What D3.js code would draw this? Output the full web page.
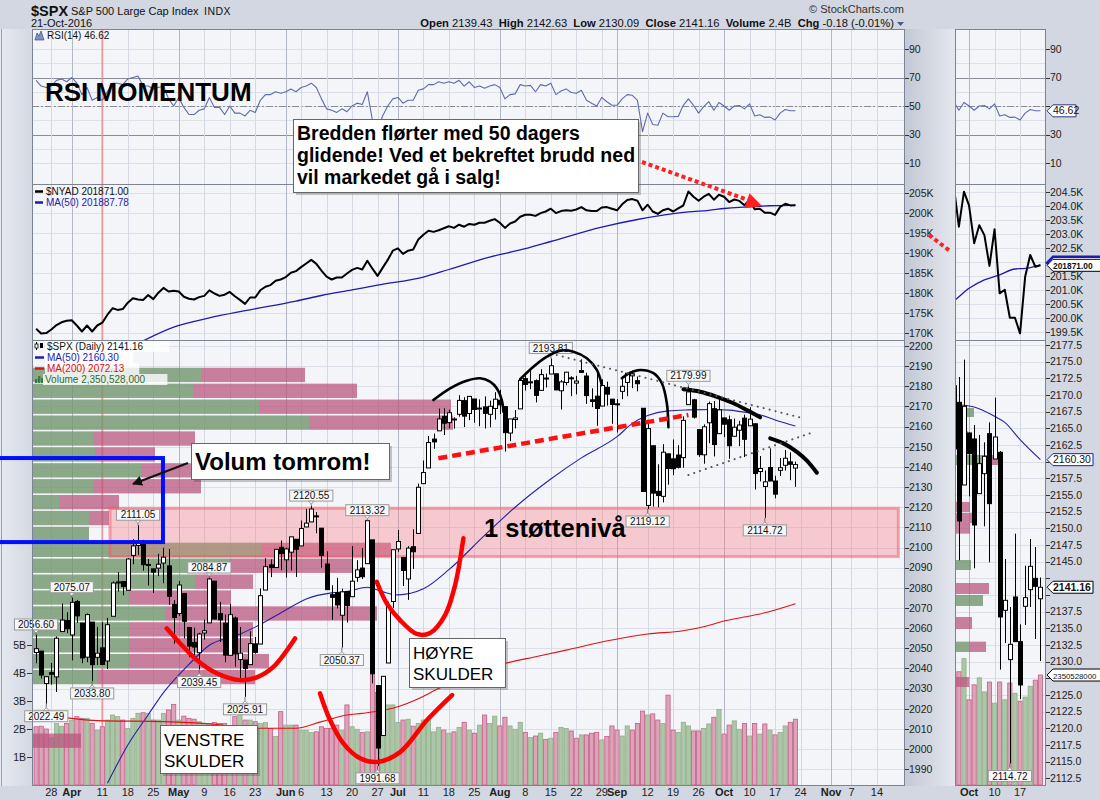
<!DOCTYPE html>
<html><head><meta charset="utf-8">
<script src="https://cdn.jsdelivr.net/npm/d3@7/dist/d3.min.js"></script>
<style>
html,body{margin:0;padding:0;background:#d2d7e1;}
svg{display:block;}
text{font-family:"Liberation Sans",Arial,sans-serif;}
</style></head><body>
<svg id="chart" width="1100" height="800"></svg>
<script>
// ================= DATA =================
const holidays = ["2016-03-25","2016-05-30","2016-07-04","2016-09-05","2016-11-24"];
const firstDay = "2016-03-22";
const prevClose = 2051.60;
const opens = [2047.9,2048.6,2032.5,2037.9,2035.8,2058.3,2063.8,2056.6,2073.2,2062.5,
2045.6,2063.0,2045.5,2050.2,2043.7,2065.9,2082.9,2083.1,2078.8,2096.1,
2101.0,2102.1,2091.5,2089.4,2089.8,2092.3,2090.9,2071.8,2067.2,2077.2,
2060.3,2052.9,2047.8,2057.6,2062.6,2083.3,2067.2,2062.5,2046.5,2065.0,
2044.4,2044.2,2041.9,2052.2,2052.1,2078.9,2091.4,2090.1,2100.1,2093.9,
2097.7,2104.1,2100.8,2110.2,2112.7,2115.7,2109.6,2091.8,2076.6,2077.6,
2066.4,2078.2,2075.6,2085.2,2089.8,2092.0,2103.8,2031.5,2006.7,2042.7,
2073.2,2099.3,2095.1,2084.4,2100.4,2107.0,2131.7,2139.5,2153.8,2157.9,
2165.1,2162.0,2163.8,2166.1,2172.9,2166.5,2173.7,2169.0,2169.8,2166.1,
2169.0,2173.1,2169.9,2156.8,2163.5,2168.8,2183.8,2182.2,2182.8,2178.0,
2183.7,2186.1,2186.2,2177.8,2181.9,2184.2,2181.6,2187.8,2185.1,2173.3,
2175.1,2170.2,2179.5,2173.6,2171.3,2177.5,2181.9,2185.2,2182.8,2169.1,
2120.9,2150.5,2127.9,2125.4,2146.5,2144.0,2145.9,2144.6,2170.9,2173.3,
2158.5,2146.0,2161.9,2168.9,2156.5,2164.3,2163.4,2155.2,2158.2,2164.2,
2160.4,2161.4,2137.7,2130.3,2139.7,2133.0,2138.3,2140.8,2142.5,2139.43];
const highs = [2056.6,2048.6,2036.0,2042.7,2055.9,2072.2,2067.9,2075.07,2074.0,2062.5,
2067.3,2063.0,2060.6,2062.9,2065.1,2083.2,2087.8,2083.2,2094.7,2104.1,
2111.05,2103.8,2094.3,2089.4,2096.9,2099.9,2099.3,2073.9,2083.4,2077.2,
2060.3,2060.2,2057.7,2064.2,2084.87,2083.3,2073.0,2066.8,2071.9,2065.7,
2060.6,2044.2,2058.4,2055.6,2079.7,2094.7,2094.1,2099.1,2103.5,2100.0,
2105.3,2104.1,2113.4,2119.2,2120.55,2117.6,2109.6,2098.1,2081.3,2085.0,
2079.6,2078.2,2100.7,2093.7,2099.7,2113.32,2103.8,2031.5,2036.1,2073.1,
2098.9,2108.7,2095.1,2100.7,2109.1,2131.7,2143.2,2155.4,2156.5,2169.0,
2169.1,2168.4,2164.6,2175.6,2174.6,2175.1,2173.7,2173.5,2175.0,2172.9,
2177.1,2178.3,2170.2,2163.8,2168.2,2182.9,2185.4,2187.7,2183.4,2188.5,
2186.3,2193.81,2186.2,2183.1,2187.0,2185.0,2185.2,2193.4,2186.7,2179.0,
2187.9,2183.5,2182.3,2173.8,2173.6,2184.9,2186.6,2187.9,2184.9,2169.1,
2163.3,2150.5,2141.3,2151.3,2146.5,2153.6,2150.8,2165.1,2179.99,2173.8,
2158.5,2161.1,2172.4,2172.7,2175.3,2164.4,2165.5,2164.0,2162.9,2165.9,
2169.6,2161.6,2145.4,2138.2,2149.2,2135.6,2144.4,2148.4,2147.2,2142.63];
const lows = [2042.6,2034.9,2022.49,2032.0,2028.3,2058.3,2057.5,2044.0,2062.6,2042.6,
2043.1,2033.8,2041.7,2041.9,2039.7,2065.9,2078.1,2076.3,2078.8,2091.7,
2096.3,2088.5,2081.2,2077.5,2085.8,2082.3,2071.6,2052.3,2066.1,2054.9,
2045.6,2045.8,2039.45,2054.3,2062.6,2064.5,2053.1,2043.1,2046.5,2040.8,
2034.5,2025.91,2041.9,2047.3,2052.1,2078.9,2085.3,2090.1,2088.7,2085.1,
2088.6,2085.4,2100.8,2110.2,2112.7,2107.1,2090.0,2079.0,2064.1,2069.8,
2050.37,2062.8,2075.6,2083.0,2084.4,2092.0,2032.6,1991.68,2006.7,2042.7,
2070.0,2097.9,2080.9,2074.0,2089.4,2107.0,2131.7,2139.5,2149.0,2157.9,
2155.8,2159.1,2159.0,2164.9,2159.8,2163.2,2161.9,2160.2,2159.1,2159.7,
2163.5,2166.2,2147.6,2152.8,2159.1,2168.8,2177.9,2178.6,2172.0,2178.0,
2179.4,2186.1,2178.1,2168.5,2180.5,2175.1,2176.0,2186.8,2171.3,2169.7,
2160.4,2170.2,2170.4,2161.4,2157.1,2173.6,2175.1,2179.1,2177.5,2127.8,
2119.12,2120.3,2120.0,2122.4,2131.2,2135.9,2139.2,2139.6,2170.9,2164.0,
2145.0,2141.6,2151.8,2145.2,2156.5,2154.8,2144.0,2155.2,2150.3,2144.9,
2160.4,2128.8,2132.8,2114.72,2132.98,2124.4,2135.5,2138.2,2133.4,2130.09];
const closes = [2049.8,2036.7,2035.9,2037.1,2055.0,2064.0,2059.7,2072.8,2066.1,2045.2,
2066.7,2041.9,2047.6,2042.0,2061.7,2082.4,2082.8,2080.7,2094.3,2100.8,
2102.4,2091.5,2091.6,2087.8,2091.7,2095.2,2075.8,2065.3,2081.4,2063.4,
2051.1,2050.6,2057.1,2058.7,2084.4,2064.5,2064.1,2046.6,2066.7,2047.2,
2047.6,2040.0,2052.3,2048.0,2076.1,2090.5,2090.1,2099.1,2097.0,2099.3,
2105.3,2099.1,2109.4,2112.1,2119.1,2115.5,2096.1,2079.1,2075.3,2071.5,
2078.0,2071.2,2083.3,2088.9,2085.5,2113.3,2037.4,2000.5,2036.1,2070.8,
2098.9,2103.0,2088.6,2099.7,2097.9,2129.9,2137.2,2152.1,2152.4,2163.8,
2161.7,2166.9,2163.8,2173.0,2165.2,2175.0,2168.5,2169.2,2166.6,2170.1,
2173.6,2170.8,2157.0,2163.8,2164.3,2182.9,2180.9,2181.7,2175.5,2185.8,
2184.1,2190.2,2178.2,2182.2,2187.0,2183.9,2182.6,2186.9,2175.4,2172.5,
2169.0,2180.4,2176.1,2171.0,2170.9,2180.0,2186.5,2186.2,2181.3,2127.8,
2159.0,2127.0,2125.8,2147.3,2139.2,2139.1,2139.8,2163.1,2177.2,2164.7,
2146.1,2159.9,2171.4,2151.1,2168.3,2161.2,2150.5,2159.7,2160.8,2153.7,
2163.7,2136.7,2139.2,2132.6,2133.0,2126.5,2139.6,2144.3,2141.3,2141.16];
// volume, billions of shares
const volumes = [2.08,2.1,2.0,1.68,2.2,2.1,2.2,2.3,2.44,2.38,
2.38,2.2,1.96,2.08,2.32,2.5,2.44,2.32,2.02,2.38,
2.56,2.58,2.56,2.32,2.32,2.56,2.68,2.88,2.32,2.46,
2.38,2.35,2.26,2.2,2.2,2.23,2.2,2.2,2.11,2.44,
2.56,2.32,2.32,2.26,2.2,2.23,2.02,1.73,2.62,2.14,
2.14,2.14,1.96,1.96,1.87,1.9,2.08,2.02,2.02,2.14,
1.96,2.86,2.08,1.99,1.87,1.9,3.95,3.3,2.68,2.86,
2.86,2.23,2.32,2.35,2.1,2.2,2.32,2.32,1.9,2.06,
1.96,1.85,1.9,2.06,2.24,1.96,1.85,2.14,2.5,2.2,
2.46,2.11,2.42,2.11,1.99,2.24,1.88,1.7,1.75,1.85,
1.63,1.67,1.88,2.06,2.02,1.93,1.67,1.79,1.79,1.85,
1.88,1.61,1.73,2.11,1.96,1.75,2.11,1.96,2.2,2.64,
2.5,2.54,2.32,2.2,3.21,1.96,1.88,2.24,2.11,1.93,
1.93,2.02,2.18,2.42,2.7,1.82,2.14,2.29,1.99,2.2,
1.75,2.2,1.82,2.18,1.96,1.79,1.88,2.11,2.24,2.35];
const rsi = [68,64,63,64,68,69,67,70,66,58,
63,54,56,54,60,66,66,65,69,70,
71,64,64,62,63,64,55,50,56,49,
44,44,47,48,56,49,49,44,50,45,
45,43,47,45.5,54,58,58,60,59,60,
62,60,63,64,66,63,55,48,47,45.5,
48,46,50,52,51,60,40,33,43,50,
55,56,52,54,54,61,62,65,65,67,
66,67,66,68,64,67,63,64,62.5,64,
65,63,55,58,58.5,65,64,64.5,60,65,
64,66,58,60.5,62,59.5,59,61,54,52,
50,56,53,50.5,50.5,55,58,57.5,54,32,
45,37,36.5,45,42.5,42.5,42.7,50.5,55,50.5,
45,49.5,53,47,52.5,50,47,50,50.3,48,
51.5,43,43.8,42,42.2,40.2,45,47.5,46.7,46.62];
// $NYAD in thousands
const nyad = [171.0,169.8,169.9,170.8,171.9,172.6,173.0,173.1,171.8,170.3,
171.8,170.3,171.8,172.5,174.5,176.1,175.7,175.9,177.5,178.6,
178.3,178.2,179.4,178.4,180.0,181.2,180.3,180.5,180.3,179.0,
178.5,178.3,178.9,179.2,180.6,179.8,179.2,179.5,180.2,179.1,
178.2,177.2,178.8,178.8,180.6,181.5,181.9,183.0,183.3,183.9,
185.0,185.4,186.4,187.3,188.2,187.2,185.5,184.0,183.3,183.8,
183.8,184.8,185.7,186.2,185.8,188.0,186.0,184.2,186.2,188.2,
190.5,191.1,189.7,190.5,190.8,193.3,194.5,195.5,195.2,195.6,
196.1,196.6,196.2,197.0,196.5,197.2,197.0,197.5,197.5,198.0,
198.4,197.5,196.2,197.3,197.8,199.0,199.5,199.5,199.2,199.9,
200.3,201.0,199.9,200.4,200.6,200.5,200.8,201.4,200.6,200.4,
200.4,201.3,201.4,201.0,200.6,202.1,203.2,203.4,203.0,200.6,
202.0,200.3,199.7,200.6,201.0,200.3,201.1,201.8,205.3,204.0,
203.0,204.0,204.7,203.25,204.5,204.0,202.66,203.3,202.95,201.85,
203.16,200.87,201.0,200.0,200.0,199.44,201.46,202.24,201.82,201.871];
// [trading day number, value]
const nyadMA50 = [[20,167.3],[27,171.4],[34,173.7],[41,175.5],[51,177.9],[56,179.3],[62,180.7],[67,181.9],[76,183.9],[81,185.8],[89,188.9],[96,191.0],[101,192.8],[111,196.4],[118,198.3],[128,200.2],[132,200.6],[135,201.05],[138,201.35],[141,201.53],[144,201.74],[146,201.76],[149,201.888]];
const ma50 = [[14,1983],[18,2002],[22,2017],[25,2028],[30,2042],[34,2051.5],[39,2056],[43,2060.5],[48,2067.5],[53,2074.5],[58,2077.5],[61,2078.1],[65,2080.3],[68,2078],[71,2076.5],[76,2079.5],[81,2089],[88,2106],[94,2120],[101,2134],[107,2144.5],[114,2155],[117,2161.6],[120,2165.5],[124,2167.8],[128,2168.3],[133,2168.5],[136,2168.2],[140,2166.8],[142,2165.9],[145,2163.3],[149,2160.3]];
const ma200 = [[0,2016.5],[5,2015.7],[12,2014.1],[25,2013.6],[35,2012.3],[43,2010.3],[51,2010.3],[56,2013.6],[61,2016.9],[64,2017.7],[71,2021],[75,2025],[79,2030],[92,2042.5],[98,2045.8],[104,2049.1],[113,2054.1],[120,2057.1],[127,2058.7],[131,2060.7],[135,2063.5],[143,2067.6],[149,2072.13]];
// Volume-by-price (24 rows top to bottom), billions
const vbpRange = [1999.8, 2189.2];
const vbpUp   = [42,40,56.5,69,15,15.5,27,15,6.5,14,14,57,49,40.5,24,33,24,24,24,16,0,0,0,0];
const vbpDown = [26,41,48,36,25.5,15,13,27,15,5,0,32.5,31,14.5,25.5,53,31,31,35,39.5,0,0,0,12];
// zoom panel volume-by-price rows
const miniVbpTop = [2168.05,2164.6,2161.0,2153.95,2152.3,2150.8,2145.25,2141.8,2140.0,2136.7,2133.0,2127.7];
const miniVbpBot = [2166.7,2163.0,2159.5,2152.45,2150.8,2149.2,2143.75,2140.15,2138.35,2134.9,2131.45,2126.2];
const miniVbpUp   = [4.5,3,7.5,0,0,0,3.75,0,6.75,0,3.5,0];
const miniVbpDown = [0,0,3,3.5,4.25,3.5,0,8.25,0,4,4,3.25];
// highs / lows flagged on the chart
const hlLabels = [[0,2056.60,"H"],[7,2075.07,"H"],[20,2111.05,"H"],[34,2084.87,"H"],[54,2120.55,"H"],[65,2113.32,"H"],[101,2193.81,"H"],[128,2179.99,"H"],
[2,2022.49,"L"],[11,2033.80,"L"],[32,2039.45,"L"],[41,2025.91,"L"],[60,2050.37,"L"],[67,1991.68,"L"],[120,2119.12,"L"],[143,2114.72,"L"]];
// ticks
const priceTicks = [1990,2000,2010,2020,2030,2040,2050,2060,2070,2080,2090,2100,2110,2120,2130,2140,2150,2160,2170,2180,2190,2200];
const rsiGrid = [10,20,30,40,50,60,70,80,90];
const rsiTicks = [90,70,50,30,10];
const nyadTicks = [170,175,180,185,190,195,200,205];
const volTicks = [1,2,3,4,5];
const miniPriceTicks = [2112.5,2115,2117.5,2120,2122.5,2125,2127.5,2130,2132.5,2135,2137.5,2140,2142.5,2145,2147.5,2150,2152.5,2155,2157.5,2160,2162.5,2165,2167.5,2170,2172.5,2175,2177.5];
const miniNyadTicks = [199.5,200,200.5,201,201.5,202,202.5,203,203.5,204,204.5];
const xTicks = [["2016-03-28","28"],["2016-04-01","Apr"],["2016-04-11","11"],["2016-04-18","18"],["2016-04-25","25"],["2016-05-02","May"],["2016-05-09","9"],["2016-05-16","16"],["2016-05-23","23"],["2016-06-01","Jun"],["2016-06-06","6"],["2016-06-13","13"],["2016-06-20","20"],["2016-06-27","27"],["2016-07-01","Jul"],["2016-07-11","11"],["2016-07-18","18"],["2016-07-25","25"],["2016-08-01","Aug"],["2016-08-08","8"],["2016-08-15","15"],["2016-08-22","22"],["2016-08-29","29"],["2016-09-01","Sep"],["2016-09-12","12"],["2016-09-19","19"],["2016-09-26","26"],["2016-10-03","Oct"],["2016-10-10","10"],["2016-10-17","17"],["2016-10-24","24"],["2016-11-01","Nov"],["2016-11-07","7"],["2016-11-14","14"]];
const miniXTicks = [["2016-10-03","Oct"],["2016-10-10","10"],["2016-10-17","17"]];

// ================= LAYOUT / SCALES =================
const fmt = d3.timeFormat("%Y-%m-%d");
const days = d3.timeDay.range(d3.timeParse("%Y-%m-%d")(firstDay), new Date(2016,10,30))
  .filter(d => d.getDay()>0 && d.getDay()<6 && !holidays.includes(fmt(d)));
const dayIdx = new Map(days.map((d,i)=>[fmt(d),i]));
const N = closes.length;

const L=32,R=905,ML=955,MR=1046,T1=29,B1=184,B2=340,B3=786;
const xMain = d3.scaleLinear().domain([-0.8,170.5]).range([L,R]);
const xMini = d3.scaleLinear().domain([-0.8,170.5]).range([L+245,R+245]);
const yRsi = d3.scaleLinear().domain([0,100]).range([177.25,34.75]);
const yNy = d3.scaleLinear().domain([170,205]).range([332.7,192.7]);
const yNyM = d3.scaleLinear().domain([199.5,204.5]).range([331.7,191.7]);
const yPx = d3.scaleLinear().domain([1990,2200]).range([769.2,346]);
const yPxM = d3.scaleLinear().domain([2112.5,2177.5]).range([778.3,345]);
const yVol = d3.scaleLinear().domain([0,5]).range([785,645]);
const yVolM = d3.scaleLinear().domain([0,1]).range([785,738.2]);
const wVbp = d3.scaleLinear().domain([0,100]).range([0,400]);

const svg = d3.select("#chart");
const defs = svg.append("defs");
function clip(id,x,y,w,h){defs.append("clipPath").attr("id",id).append("rect").attr("x",x).attr("y",y).attr("width",w).attr("height",h);}
clip("cR",L,T1,R-L,B1-T1); clip("cN",L,B1,R-L,B2-B1); clip("cP",L,B2,R-L,B3-B2);
clip("mR",ML,T1,MR-ML,B1-T1); clip("mN",ML,B1,MR-ML,B2-B1); clip("mP",ML,B2,MR-ML,B3-B2);
const gr = defs.append("linearGradient").attr("id","gap");
gr.append("stop").attr("offset","0").attr("stop-color","#c3c9d5");
gr.append("stop").attr("offset","1").attr("stop-color","#e4e7ed");
const gl = defs.append("linearGradient").attr("id","lgap");
gl.append("stop").attr("offset","0").attr("stop-color","#e6e9ef");
gl.append("stop").attr("offset","1").attr("stop-color","#d3d8e2");
const mk = defs.append("marker").attr("id","ah").attr("viewBox","0 0 10 10").attr("refX",9).attr("refY",5)
  .attr("markerWidth",5).attr("markerHeight",5).attr("orient","auto");
mk.append("path").attr("d","M0,0L10,5L0,10Z").attr("fill","#111");

// background
svg.append("rect").attr("width",1100).attr("height",800).attr("fill","#d2d7e1");
svg.append("rect").attr("x",0).attr("y",T1).attr("width",L).attr("height",B3-T1).attr("fill","url(#lgap)");
svg.append("rect").attr("x",R).attr("y",T1).attr("width",ML-R).attr("height",B3-T1).attr("fill","url(#gap)");
svg.append("line").attr("x1",1.5).attr("x2",1.5).attr("y1",T1).attr("y2",B3).attr("stroke","#9aa1ae");
[[L,R],[ML,MR]].forEach(([a,b])=>{
  svg.append("rect").attr("x",a).attr("y",T1).attr("width",b-a).attr("height",B3-T1).attr("fill","#f4f5f9");
});

const upDay = i => closes[i] >= (i ? closes[i-1] : prevClose);
const gridC = "#dcdfe7";

function panelGrid(x0,x1,ys,vals,clipId){
  const g = svg.append("g").attr("clip-path",`url(#${clipId})`);
  g.selectAll(null).data(vals).join("line").attr("x1",x0).attr("x2",x1)
   .attr("y1",d=>Math.round(ys(d))+0.5).attr("y2",d=>Math.round(ys(d))+0.5).attr("stroke",gridC);
  return g;
}
const gRg = panelGrid(L,R,yRsi,rsiGrid,"cR");
panelGrid(L,R,yNy,nyadTicks,"cN");
panelGrid(L,R,yPx,priceTicks,"cP");
const gRgm = panelGrid(ML,MR,yRsi,rsiGrid,"mR");
panelGrid(ML,MR,yNyM,miniNyadTicks,"mN");
panelGrid(ML,MR,yPxM,miniPriceTicks,"mP");
function vgrid(x,ticks,x0,x1){
  svg.append("g").selectAll(null).data(ticks.filter(t=>{const v=x(dayIdx.get(t[0]));return v>x0&&v<x1;})).join("line")
   .attr("x1",d=>Math.round(x(dayIdx.get(d[0])))+0.5).attr("x2",d=>Math.round(x(dayIdx.get(d[0])))+0.5)
   .attr("y1",T1).attr("y2",B3)
   .attr("stroke",d=>isNaN(+d[1])?"#b3b8c5":"#d6d9e2");
}
vgrid(xMain,xTicks,L,R);
vgrid(xMini,miniXTicks,ML,MR);
[[gRg,L,R],[gRgm,ML,MR]].forEach(([g,a,b])=>{
  [70,30].forEach(v=>g.append("line").attr("x1",a).attr("x2",b).attr("y1",Math.round(yRsi(v))+0.5).attr("y2",Math.round(yRsi(v))+0.5).attr("stroke","#8a8d96"));
  g.append("line").attr("x1",a).attr("x2",b).attr("y1",Math.round(yRsi(50))+0.5).attr("y2",Math.round(yRsi(50))+0.5)
   .attr("stroke","#8a8d96").attr("stroke-dasharray","7,2,2,2");
});
svg.append("line").attr("x1",xMain(13)).attr("x2",xMain(13)).attr("y1",T1).attr("y2",B3)
  .attr("stroke","rgba(245,110,110,0.6)").attr("stroke-width",2);

// ---------- volume bars ----------
function volBars(x,yv,clipId){
  svg.append("g").attr("clip-path",`url(#${clipId})`).selectAll(null).data(volumes).join("rect")
   .attr("x",(d,i)=>x(i)-2.1).attr("width",4.2)
   .attr("y",d=>yv(d)).attr("height",d=>yv(0)-yv(d))
   .attr("fill",(d,i)=>upDay(i)?"#adc6a7":"#dca4b9")
   .attr("stroke",(d,i)=>upDay(i)?"#8fb08a":"#c55d87").attr("stroke-width",0.8);
}
volBars(xMain,yVol,"cP");
volBars(xMini,yVolM,"mP");

// ---------- volume by price ----------
const nRows = vbpUp.length, rowStep = (vbpRange[1]-vbpRange[0])/nRows;
const vbpRows = vbpUp.map((u,k)=>({top:vbpRange[1]-k*rowStep, bot:vbpRange[1]-(k+1)*rowStep, up:u, dn:vbpDown[k]}));
const gV = svg.append("g").attr("clip-path","url(#cP)");
vbpRows.forEach(r=>{
  const y0=yPx(r.top), h=yPx(r.bot)-yPx(r.top)-1.6;
  if(r.up>0) gV.append("rect").attr("x",L+1).attr("y",y0).attr("width",wVbp(r.up)).attr("height",h).attr("fill","rgba(112,150,108,0.8)");
  if(r.dn>0) gV.append("rect").attr("x",L+1+wVbp(r.up)).attr("y",y0).attr("width",wVbp(r.dn)).attr("height",h).attr("fill","rgba(185,85,125,0.75)");
});
const gVm = svg.append("g").attr("clip-path","url(#mP)");
miniVbpTop.forEach((t,k)=>{
  const y0=yPxM(t), h=yPxM(miniVbpBot[k])-yPxM(t);
  if(miniVbpUp[k]>0) gVm.append("rect").attr("x",ML+1).attr("y",y0).attr("width",wVbp(miniVbpUp[k])).attr("height",h).attr("fill","rgba(112,150,108,0.8)");
  if(miniVbpDown[k]>0) gVm.append("rect").attr("x",ML+1+wVbp(miniVbpUp[k])).attr("y",y0).attr("width",wVbp(miniVbpDown[k])).attr("height",h).attr("fill","rgba(185,85,125,0.75)");
});

// ---------- support band ----------
svg.append("rect").attr("x",xMain(14.5)).attr("y",yPx(2119.5)).attr("width",xMain(169.2)-xMain(14.5)).attr("height",yPx(2095.5)-yPx(2119.5))
  .attr("fill","rgba(245,120,130,0.35)").attr("stroke","rgba(240,90,100,0.5)").attr("stroke-width",3);

// ---------- indicator lines ----------
const idx = d3.range(N);
function drawLine(pts,x,y,clipId,color,w,curve){
  svg.append("path").attr("clip-path",`url(#${clipId})`).attr("fill","none").attr("stroke",color).attr("stroke-width",w)
   .attr("stroke-linejoin","round")
   .attr("d",d3.line().x(d=>x(d[0])).y(d=>y(d[1])).curve(curve||d3.curveLinear)(pts));
}
const rsiPts = idx.map(i=>[i,rsi[i]]), nyPts = idx.map(i=>[i,nyad[i]]);
drawLine(rsiPts,xMain,yRsi,"cR","#5d6bab",1.1);
drawLine(rsiPts,xMini,yRsi,"mR","#5d6bab",1.1);
drawLine(nyadMA50,xMain,yNy,"cN","#1c1cb0",1.3,d3.curveMonotoneX);
drawLine(nyPts,xMain,yNy,"cN","#000",2);
drawLine(nyadMA50,xMini,yNyM,"mN","#1c1cb0",1.3,d3.curveMonotoneX);
drawLine(nyPts,xMini,yNyM,"mN","#000",2);
drawLine(ma50,xMain,yPx,"cP","#2323a6",1.1,d3.curveMonotoneX);
drawLine(ma200,xMain,yPx,"cP","#e21010",1.1,d3.curveMonotoneX);
drawLine(ma50,xMini,yPxM,"mP","#2323a6",1.1,d3.curveMonotoneX);

// ---------- candles ----------
function candles(x,y,clipId,bw){
  const g = svg.append("g").attr("clip-path",`url(#${clipId})`);
  g.selectAll(null).data(idx).join("line")
   .attr("x1",i=>Math.round(x(i))+0.5).attr("x2",i=>Math.round(x(i))+0.5)
   .attr("y1",i=>y(highs[i])).attr("y2",i=>y(lows[i])).attr("stroke","#000").attr("stroke-width",1);
  g.selectAll(null).data(idx).join("rect")
   .attr("x",i=>Math.round(x(i))+0.5-bw/2).attr("width",bw)
   .attr("y",i=>y(Math.max(opens[i],closes[i])))
   .attr("height",i=>Math.max(1,Math.abs(y(opens[i])-y(closes[i]))))
   .attr("fill",i=>closes[i]>=opens[i]?"#fff":"#000").attr("stroke","#000").attr("stroke-width",1);
}
candles(xMain,yPx,"cP",4);
candles(xMini,yPxM,"mP",4);

// ---------- high/low flags ----------
function flag(x,y,i,v,kind){
  const cx = x(i), txt = v.toFixed(2), w = txt.length*5.6+4, h=11;
  const yv = y(v);
  const cy = kind==="H" ? yv-10.5 : yv+12.5;
  const g = svg.append("g");
  const ptr = kind==="H" ? `M${cx-3},${cy+h/2}L${cx},${cy+h/2+3}L${cx+3},${cy+h/2}` : `M${cx-3},${cy-h/2}L${cx},${cy-h/2-3}L${cx+3},${cy-h/2}`;
  g.append("line").attr("x1",cx).attr("x2",cx).attr("y1",yv).attr("y2",kind==="H"?cy+h/2+3:cy-h/2-3).attr("stroke","#555").attr("stroke-width",0.8);
  g.append("rect").attr("x",cx-w/2).attr("y",cy-h/2).attr("width",w).attr("height",h).attr("fill","#f7f7f9").attr("stroke","#9a9a9a");
  g.append("path").attr("d",ptr+"Z").attr("fill","#f7f7f9").attr("stroke","#9a9a9a");
  g.append("text").attr("x",cx).attr("y",cy+3.6).attr("text-anchor","middle").attr("font-size",10).attr("fill","#111").text(txt);
}
hlLabels.forEach(([i,v,k])=>flag(xMain,yPx,i,v,k));
flag(xMini,yPxM,143,2114.72,"L");

// ---------- frames ----------
[[L,R],[ML,MR]].forEach(([a,b])=>{
  svg.append("rect").attr("x",a+0.5).attr("y",T1+0.5).attr("width",b-a-1).attr("height",B3-T1-1).attr("fill","none").attr("stroke","#7c8494");
  [B1,B2].forEach(yy=>svg.append("line").attr("x1",a).attr("x2",b).attr("y1",yy+0.5).attr("y2",yy+0.5).attr("stroke","#7c8494"));
});

// ---------- zoom-panel value tags (positions used to keep tick labels clear) ----------
const tagYs = [yRsi(rsi[N-1]), yNyM(nyad[N-1]), yPxM(ma50[ma50.length-1][1]), yPxM(closes[N-1]), yVolM(volumes[N-1])];

// ---------- axes labels ----------
function rightAxis(xa,ys,vals,fmtF,avoid){
  const g = svg.append("g");
  vals.forEach(v=>{
    const y = ys(v);
    g.append("line").attr("x1",xa).attr("x2",xa+4).attr("y1",Math.round(y)+0.5).attr("y2",Math.round(y)+0.5).attr("stroke","#333");
    if(avoid && avoid.some(t=>Math.abs(t-y)<9)) return;
    g.append("text").attr("x",xa+4).attr("y",y+3.8).attr("font-size",10.5).attr("fill","#222").text(fmtF(v));
  });
}
rightAxis(R,yRsi,rsiTicks,v=>v);
rightAxis(R,yNy,nyadTicks,v=>v+"K");
rightAxis(R,yPx,priceTicks,v=>v);
rightAxis(MR,yRsi,rsiTicks,v=>v,tagYs);
rightAxis(MR,yNyM,miniNyadTicks,v=>v.toFixed(1)+"K",tagYs);
rightAxis(MR,yPxM,miniPriceTicks,v=>v.toFixed(1),tagYs);
volTicks.forEach(v=>{
  const y=yVol(v);
  svg.append("line").attr("x1",L-5).attr("x2",L).attr("y1",Math.round(y)+0.5).attr("y2",Math.round(y)+0.5).attr("stroke","#333");
  svg.append("text").attr("x",L-6).attr("y",y+3.8).attr("text-anchor","end").attr("font-size",10.5).attr("fill","#222").text(v+"B");
});
function xLabels(x,ticks,x0,x1){
  ticks.forEach(([d,lab])=>{
    const xv = x(dayIdx.get(d)); if(xv<x0||xv>x1) return;
    svg.append("text").attr("x",xv).attr("y",796).attr("text-anchor","middle").attr("font-size",11)
      .attr("font-weight",isNaN(+lab)?"bold":"normal").attr("fill","#222").text(lab);
  });
}
xLabels(xMain,xTicks,L,R+2);
xLabels(xMini,miniXTicks,ML,MR);

// ---------- value tags on zoom panel axis ----------
function tag(y,txt,opt){
  const x=MR+1, w=opt.w, h=12;
  svg.append("path").attr("d",`M${x},${y}L${x+6},${y-h/2}H${x+w}V${y+h/2}H${x+6}Z`)
    .attr("fill","#fff").attr("stroke",opt.stroke).attr("stroke-width",opt.sw||1);
  if(txt) svg.append("text").attr("x",x+6).attr("y",y+3.6).attr("font-size",opt.fs||10.5).attr("font-weight",opt.bold?"bold":"normal")
    .attr("fill",opt.color||"#111").text(txt);
}
tag(tagYs[0],rsi[N-1].toFixed(2),{w:29,stroke:"#2a3580"});
tag(yNyM(201.888)-2,null,{w:60,stroke:"#1c1cb0",sw:2.5});
tag(tagYs[1],"201871.00",{w:60,stroke:"#000",bold:true,fs:8.4});
tag(tagYs[2],"2160.30",{w:46,stroke:"#1c1cb0",color:"#111"});
tag(tagYs[3],closes[N-1].toFixed(2),{w:46,stroke:"#000",bold:true});
tag(tagYs[4],"2350528000",{w:60,stroke:"#000",fs:7.8});

// ---------- legends ----------
const mono = "DejaVu Sans Mono, monospace";
function legend(x,y,txt,color,bg){
  if(bg) svg.append("rect").attr("x",x-2).attr("y",y-9).attr("width",txt.length*6.02+4).attr("height",11).attr("fill","rgba(255,255,255,0.8)");
  svg.append("text").attr("x",x).attr("y",y).attr("font-family",mono).attr("font-size",10).attr("fill",color).text(txt);
}
svg.append("path").attr("d","M35,40L37,33L39,36L41,31L44,40Z").attr("fill","#7b92c6").attr("stroke","#3c4c8c").attr("stroke-width",0.7);
legend(47,39,"RSI(14) 46.62","#111");
svg.append("line").attr("x1",35).attr("x2",43).attr("y1",191.5).attr("y2",191.5).attr("stroke","#000").attr("stroke-width",2.5);
legend(46,195,"$NYAD 201871.00","#111");
svg.append("line").attr("x1",35).attr("x2",43).attr("y1",202.5).attr("y2",202.5).attr("stroke","#1c1cb0").attr("stroke-width",2.5);
legend(46,206,"MA(50) 201887.78","#1c1cb0");
legend(47,350,"$SPX (Daily) 2141.16","#111",true);
svg.append("path").attr("d","M36.5,342V350").attr("stroke","#000");
svg.append("rect").attr("x",35).attr("y",344).attr("width",3).attr("height",4).attr("fill","#fff").attr("stroke","#000").attr("stroke-width",0.8);
svg.append("rect").attr("x",40).attr("y",343).attr("width",3).attr("height",5).attr("fill","#000");
svg.append("line").attr("x1",35).attr("x2",44).attr("y1",357.5).attr("y2",357.5).attr("stroke","#1c1cb0").attr("stroke-width",2.5);
legend(47,361,"MA(50) 2160.30","#1c1cb0",true);
svg.append("line").attr("x1",35).attr("x2",44).attr("y1",368.5).attr("y2",368.5).attr("stroke","#e21010").attr("stroke-width",2.5);
legend(47,372,"MA(200) 2072.13","#e21010",true);
[[35,4],[38,7],[41,5]].forEach(([bx,bh])=>svg.append("rect").attr("x",bx).attr("y",383-bh).attr("width",2.4).attr("height",bh).attr("fill","#3d7a3d"));
legend(45,383,"Volume 2,350,528,000","#2f6b2f",true);

// ---------- header ----------
svg.append("text").attr("x",31).attr("y",16).attr("font-size",14.5).attr("font-weight","bold").attr("fill","#111").text("$SPX");
svg.append("text").attr("x",71).attr("y",15).attr("font-size",11).attr("fill","#111").text("S&P 500 Large Cap Index");
svg.append("text").attr("x",204).attr("y",15).attr("font-size",10.5).attr("fill","#111").attr("letter-spacing","0.5").text("INDX");
svg.append("text").attr("x",31).attr("y",27).attr("font-size",11).attr("fill","#111").text("21-Oct-2016");
svg.append("text").attr("x",904).attr("y",13).attr("text-anchor","end").attr("font-size",11).attr("fill","#333").text("© StockCharts.com");
const hdr = svg.append("text").attr("x",894).attr("y",27).attr("text-anchor","end").attr("font-size",11.2).attr("fill","#111");
[["Open",true],[" 2139.43  ",false],["High",true],[" 2142.63  ",false],["Low",true],[" 2130.09  ",false],["Close",true],[" 2141.16  ",false],["Volume",true],[" 2.4B  ",false],["Chg",true],[" -0.18 (-0.01%)",false]]
 .forEach(([t,b])=>hdr.append("tspan").attr("font-weight",b?"bold":"normal").attr("xml:space","preserve").text(t));
svg.append("path").attr("d","M897,22L904,22L900.5,26Z").attr("fill","#4a5a90");

// ---------- annotations ----------
const ann = svg.append("g");
ann.append("text").attr("x",45).attr("y",101).attr("font-size",26).attr("font-weight","bold").attr("fill","#000").text("RSI MOMENTUM");

function box(x,y,w,h){
  ann.append("rect").attr("x",x+3).attr("y",y+3).attr("width",w).attr("height",h).attr("fill","rgba(60,60,60,0.28)");
  ann.append("rect").attr("x",x+0.5).attr("y",y+0.5).attr("width",w).attr("height",h).attr("fill","#fff").attr("stroke","#666");
}
box(293,119,345,73);
["Bredden flørter med 50 dagers","glidende! Ved et bekreftet brudd ned","vil markedet gå i salg!"].forEach((t,k)=>
  ann.append("text").attr("x",297).attr("y",140+k*21.8).attr("font-size",19.5).attr("font-weight","bold").attr("fill","#000").text(t));
ann.append("line").attr("x1",642).attr("y1",162).attr("x2",748).attr("y2",200).attr("stroke","#ff2020").attr("stroke-width",4).attr("stroke-dasharray","4,3");
ann.append("path").attr("d","M762,206L749.5,193.2L744.3,208.2Z").attr("fill","#ff2020");
ann.append("line").attr("x1",929).attr("y1",235).attr("x2",950).attr("y2",251).attr("stroke","#ff2020").attr("stroke-width",4).attr("stroke-dasharray","4,3");

const pLine = d3.line().x(d=>xMain(d[0])).y(d=>yPx(d[1])).curve(d3.curveCatmullRom.alpha(0.5));
const blackArcs = [
 {w:2.6, pts:[[77.96,2173.2],[81.24,2179.0],[84.51,2182.8],[87.12,2184.0],[89.08,2182.3],[90.4,2179.0],[91.38,2173.2],[91.7,2167.4]]},
 {w:2.6, pts:[[94.98,2183.5],[97.59,2189.7],[100.22,2194.7],[102.83,2197.7],[105.44,2197.2],[108.07,2193.9],[110.03,2188.1],[111.01,2180.6]]},
 {w:2.6, pts:[[114.94,2184.0],[116.57,2186.7],[118.53,2188.1],[121.14,2186.5],[122.79,2181.5],[123.77,2171.6],[124.08,2159.7]]},
 {w:4, pts:[[127.03,2178.5],[130.3,2177.3],[133.58,2174.8],[136.84,2171.6],[139.47,2168.2],[142.08,2164.6]]},
 {w:4, pts:[[144.05,2154.2],[146.65,2151.7],[149.28,2147.5],[151.25,2143.1],[153.21,2137.1]]}
];
blackArcs.forEach(a=>ann.append("path").attr("d",pLine(a.pts)).attr("fill","none").attr("stroke","#000").attr("stroke-width",a.w).attr("stroke-linecap","round"));
const dotLines = [[[102.18,2195.5],[150.58,2164.1]],[[128.0,2136.0],[151.89,2156.7]]];
dotLines.forEach(l=>ann.append("path").attr("d",d3.line().x(d=>xMain(d[0])).y(d=>yPx(d[1]))(l)).attr("stroke","#555").attr("stroke-width",2).attr("stroke-dasharray","0.1,6").attr("stroke-linecap","round"));
ann.append("path").attr("d",d3.line().x(d=>xMain(d[0])).y(d=>yPx(d[1]))([[78.94,2144.3],[128.0,2165.8]]))
  .attr("stroke","#ff1010").attr("stroke-width",4.5).attr("stroke-dasharray","9,5");
const redArcs = [
 [[25.63,2059.9],[28.24,2052.5],[31.52,2044.2],[35.45,2037.6],[40.02,2034.2],[43.3,2035.6],[46.56,2040.8],[50.81,2054.9]],
 [[55.72,2027.6],[57.68,2014.4],[60.29,2002.8],[63.57,1995.4],[66.91,1993.6],[71.43,1998.5],[76.72,2014.4],[81.63,2026.8]],
 [[66.85,2083.0],[68.81,2072.3],[71.42,2064.0],[74.7,2057.1],[77.31,2057.6],[80.26,2066.5],[82.22,2081.4],[83.85,2104.6]]
];
redArcs.forEach(p=>ann.append("path").attr("d",pLine(p)).attr("fill","none").attr("stroke","#ff0000").attr("stroke-width",4.5).attr("stroke-linecap","round"));
ann.append("rect").attr("x",xMain(-8)).attr("y",yPx(2144.4)).attr("width",xMain(24.9)-xMain(-8)).attr("height",yPx(2102.7)-yPx(2144.4))
  .attr("fill","none").attr("stroke","#0010ff").attr("stroke-width",4);
box(191,443,198,36);
ann.append("text").attr("x",195).attr("y",470).attr("font-size",24).attr("font-weight","bold").attr("fill","#000").text("Volum tomrom!");
ann.append("line").attr("x1",188).attr("y1",463).attr("x2",133).attr("y2",484).attr("stroke","#111").attr("stroke-width",2).attr("marker-end","url(#ah)");
ann.append("text").attr("x",484).attr("y",537).attr("font-size",25.5).attr("font-weight","bold").attr("fill","#000").text("1 støttenivå");
box(160,725,97,48);
ann.append("text").attr("x",164).attr("y",746).attr("font-size",17).attr("fill","#000").text("VENSTRE");
ann.append("text").attr("x",164).attr("y",767).attr("font-size",17).attr("fill","#000").text("SKULDER");
box(409,638,96,49);
ann.append("text").attr("x",413).attr("y",659).attr("font-size",17).attr("fill","#000").text("HØYRE");
ann.append("text").attr("x",413).attr("y",680).attr("font-size",17).attr("fill","#000").text("SKULDER");
</script>
</body></html>
